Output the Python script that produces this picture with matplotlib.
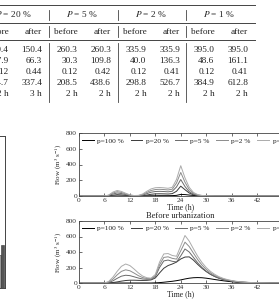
import matplotlib
matplotlib.use("Agg")
import matplotlib.pyplot as plt

plt.rcParams['font.family'] = ['Liberation Serif', 'DejaVu Serif']
plt.rcParams['mathtext.fontset'] = 'stix'

# ---------------- data ----------------
groups = ["20", "5", "2", "1"]
subcols = ["before", "after"]
row_peak_rain = [150.4, 150.4, 260.3, 260.3, 335.9, 335.9, 395.0, 395.0]
row_depth = [17.9, 66.3, 30.3, 109.8, 40.0, 136.3, 48.6, 161.1]
row_coef = [0.12, 0.44, 0.12, 0.42, 0.12, 0.41, 0.12, 0.41]
row_peak_flow = [124.7, 337.4, 208.5, 438.6, 298.8, 526.7, 384.9, 612.8]
row_lag = ["2 h", "3 h", "2 h", "2 h", "2 h", "2 h", "2 h", "2 h"]

time_h = list(range(0, 49))
series_labels = ["p=100 %", "p=20 %", "p=5 %", "p=2 %", "p=1 %"]

before_p100 = [0]*16 + [2, 3, 3, 4, 4, 4, 5, 8, 20, 18, 12, 7, 4, 2, 1] + [0]*18
before_p20 = [0]*7 + [2, 10, 17, 14, 8, 3, 1, 1, 4, 12, 22, 27, 28, 27, 25, 30, 60, 125, 80, 38, 15, 6, 2, 1] + [0]*18
before_p5 = [0]*7 + [6, 25, 38, 31, 18, 7, 2, 3, 11, 30, 48, 57, 59, 57, 53, 60, 115, 209, 120, 55, 22, 9, 3, 1] + [0]*18
before_p2 = [0]*7 + [9, 38, 55, 45, 27, 11, 4, 5, 18, 45, 70, 82, 85, 82, 77, 86, 165, 299, 175, 82, 33, 13, 5, 2, 1] + [0]*17
before_p1 = [0]*7 + [12, 50, 70, 58, 35, 15, 6, 8, 25, 60, 90, 105, 108, 104, 98, 110, 210, 385, 230, 110, 45, 18, 7, 3, 1] + [0]*17

after_p100 = [0]*18 + [2, 5, 10, 16, 22, 30, 40, 52, 62, 68, 70, 68, 62, 54, 45, 37, 29, 22, 16, 11, 8, 5, 3, 2, 1] + [0]*6
after_p20 = [0]*7 + [1, 6, 14, 24, 32, 36, 36, 34, 33, 34, 40, 65, 130, 190, 225, 245, 270, 310, 335, 337, 295, 240, 190, 148, 112, 84, 62, 46, 34, 25, 18, 13, 9, 6, 4, 2, 1] + [0]*5
after_p5 = [0]*7 + [6, 28, 60, 88, 100, 95, 80, 64, 52, 48, 50, 82, 200, 285, 296, 280, 272, 350, 439, 400, 330, 260, 200, 152, 114, 85, 62, 46, 34, 25, 18, 12, 9, 6, 4, 2, 1] + [0]*5
after_p2 = [0]*7 + [12, 50, 105, 150, 170, 158, 128, 95, 70, 58, 56, 95, 235, 330, 338, 318, 308, 415, 527, 470, 385, 302, 232, 176, 132, 98, 72, 53, 39, 28, 20, 14, 10, 7, 4, 3, 2, 1] + [0]*4
after_p1 = [0]*7 + [20, 75, 150, 215, 245, 225, 180, 130, 90, 68, 62, 110, 270, 375, 380, 355, 345, 480, 613, 540, 440, 345, 265, 200, 150, 112, 82, 60, 44, 32, 23, 16, 11, 8, 5, 3, 2, 1] + [0]*4

bar_pos = [1, 2, 3]
bar_vals = [12, 22, 28]

# ---------------- figure ----------------
W, H = 279, 299
fig = plt.figure(figsize=(W/100, H/100), dpi=100)

def px_axes(left, top, right, bottom):
    return fig.add_axes([left/W, (H-bottom)/H, (right-left)/W, (bottom-top)/H])

# table (drawn in a pixel-coordinate overlay)
tab = fig.add_axes([0, 0, 1, 1])
tab.set_xlim(0, W); tab.set_ylim(H, 0); tab.axis('off')
lc = '#444444'
for yl in (4.5, 22.5, 40.0):
    tab.plot([0, 255], [yl, yl], color=lc, lw=0.7)
group_start = [-20, 49, 118, 186]
for gs in group_start[1:]:
    for (y0, y1) in ((10, 20), (26, 37), (43, 102)):
        tab.plot([gs, gs], [y0, y1], color=lc, lw=0.6)
fs_t = 6.7
rows = [row_peak_rain, row_depth, row_coef, row_peak_flow, row_lag]
fmts = ["{:.1f}", "{:.1f}", "{:.2f}", "{:.1f}", "{}"]
row_y = [50, 61, 72, 83, 94]
for gi, gs in enumerate(group_start):
    tab.text(gs + 33, 14, "$P$ = " + groups[gi] + " %", ha='center', va='center', fontsize=fs_t, color='#222222')
    cols_x = [gs + 28.5, gs + 62]
    for ci, cx in enumerate(cols_x):
        tab.text(cx, 32, subcols[ci], ha='right', va='center', fontsize=fs_t, color='#222222')
        for r, ry, f in zip(rows, row_y, fmts):
            tab.text(cx, ry, f.format(r[gi*2 + ci]), ha='right', va='center', fontsize=fs_t, color='#222222')

# left partial bar chart
axb = px_axes(-140, 136, 4.5, 288)
axb.bar(bar_pos, bar_vals, width=0.9, color=['#cccccc', '#999999', '#555555'], edgecolor='#333333', linewidth=0.4)
axb.set_xlim(-40, 3.5)
axb.set_ylim(0, 100)
axb.set_xticks([]); axb.set_yticks([])
for s in axb.spines.values():
    s.set_linewidth(0.7); s.set_color('#444444')

colors = ['#000000', '#3a3a3a', '#6a6a6a', '#8c8c8c', '#ababab']
fs = 5.3

def line_chart(ax, series):
    for vals, lab, c in zip(series, series_labels, colors):
        ax.plot(time_h, vals, color=c, lw=0.7, label=lab)
    ax.set_xlim(0, 48)
    ax.set_ylim(0, 800)
    ax.set_xticks(range(0, 49, 6))
    ax.set_yticks(range(0, 801, 200))
    ax.tick_params(direction='in', length=2, width=0.5, labelsize=fs, pad=1.5,
                   top=True, right=True, colors='#333333')
    for s in ax.spines.values():
        s.set_linewidth(0.6); s.set_color('#444444')
    ax.set_xlabel("Time (h)", fontsize=fs + 0.3, labelpad=0.2, color='#222222')
    ax.set_ylabel("Flow (m$^3$ s$^{-1}$)", fontsize=fs - 0.3, labelpad=1.5, color='#222222')
    ax.legend(loc='upper left', bbox_to_anchor=(0.015, 0.93), ncol=5, frameon=False,
              fontsize=fs, borderaxespad=0, borderpad=0, handlelength=1.6,
              handletextpad=0.45, columnspacing=0.9, labelcolor='#222222')

ax1 = px_axes(79, 133, 282.5, 196)
line_chart(ax1, [before_p100, before_p20, before_p5, before_p2, before_p1])
ax1.text(0.5, -0.315, "Before urbanization", transform=ax1.transAxes, ha='center', va='center',
         fontsize=fs + 0.8, color='#222222')

ax2 = px_axes(79, 221, 282.5, 283)
line_chart(ax2, [after_p100, after_p20, after_p5, after_p2, after_p1])

fig.savefig("out.png", dpi=100)
